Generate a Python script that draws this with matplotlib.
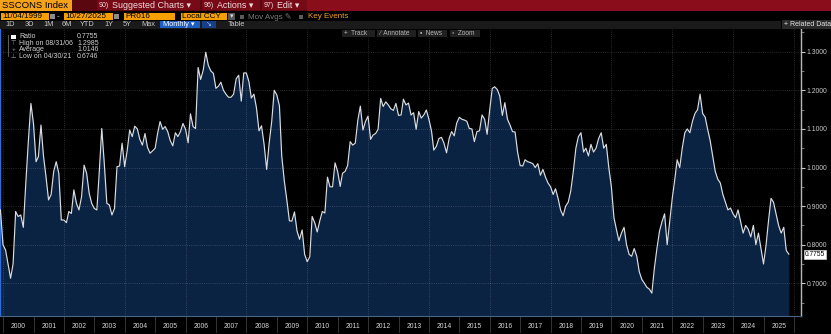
import matplotlib
matplotlib.use("Agg")
import matplotlib.pyplot as plt
import matplotlib.dates as mdates
from matplotlib.patches import Rectangle
from matplotlib.lines import Line2D
from matplotlib.ticker import FormatStrFormatter, MultipleLocator, FixedLocator
from matplotlib.transforms import blended_transform_factory
import numpy as np
import pandas as pd

# SSCONS Index ratio, month-end values (Nov 1999 - Oct 2025)
r1999 = [0.890, 0.800]
r2000 = [0.786, 0.750, 0.713, 0.750, 0.886, 0.873, 0.877, 0.845, 0.960, 1.070, 1.166, 1.114]
r2001 = [1.015, 1.028, 1.110, 1.030, 0.975, 0.916, 0.930, 0.990, 1.015, 0.985, 0.864, 0.864]
r2002 = [0.857, 0.886, 0.881, 0.942, 0.907, 0.890, 0.924, 1.006, 0.985, 0.933, 0.907, 0.894]
r2003 = [0.890, 0.985, 1.101, 1.011, 0.907, 0.903, 0.877, 0.894, 1.002, 1.004, 1.063, 1.002]
r2004 = [1.045, 1.097, 1.080, 1.107, 1.100, 1.073, 1.058, 1.088, 1.052, 1.037, 1.043, 1.050]
r2005 = [1.090, 1.119, 1.099, 1.106, 1.093, 1.070, 1.056, 1.090, 1.080, 1.093, 1.114, 1.099]
r2006 = [1.064, 1.139, 1.106, 1.101, 1.259, 1.228, 1.252, 1.2985, 1.265, 1.250, 1.244, 1.205]
r2007 = [1.211, 1.221, 1.200, 1.190, 1.182, 1.182, 1.190, 1.230, 1.239, 1.172, 1.245, 1.245]
r2008 = [1.222, 1.180, 1.190, 1.155, 1.095, 1.108, 1.060, 0.995, 1.063, 1.120, 1.200, 1.188]
r2009 = [1.160, 1.030, 0.965, 0.916, 0.862, 0.861, 0.885, 0.835, 0.814, 0.838, 0.775, 0.756]
r2010 = [0.769, 0.873, 0.857, 0.833, 0.862, 0.886, 0.882, 0.975, 0.950, 0.950, 1.012, 0.990]
r2011 = [0.951, 0.985, 0.990, 1.005, 1.067, 1.058, 1.063, 1.123, 1.159, 1.097, 1.119, 1.133]
r2012 = [1.073, 1.084, 1.088, 1.099, 1.179, 1.158, 1.170, 1.162, 1.152, 1.148, 1.166, 1.135]
r2013 = [1.136, 1.177, 1.162, 1.167, 1.136, 1.142, 1.099, 1.145, 1.128, 1.136, 1.149, 1.125]
r2014 = [1.095, 1.045, 1.055, 1.075, 1.078, 1.063, 1.038, 1.075, 1.093, 1.082, 1.115, 1.130]
r2015 = [1.125, 1.123, 1.120, 1.101, 1.100, 1.067, 1.093, 1.095, 1.136, 1.125, 1.086, 1.149]
r2016 = [1.205, 1.209, 1.202, 1.185, 1.135, 1.168, 1.125, 1.110, 1.093, 1.092, 1.040, 1.005]
r2017 = [1.004, 1.020, 1.015, 1.013, 1.010, 1.000, 1.010, 0.980, 0.995, 0.975, 0.960, 0.950]
r2018 = [0.930, 0.945, 0.920, 0.890, 0.875, 0.900, 0.910, 0.940, 0.990, 1.050, 1.080, 1.090]
r2019 = [1.040, 1.050, 1.030, 1.060, 1.040, 1.050, 1.075, 1.090, 1.050, 1.060, 1.000, 0.950]
r2020 = [0.870, 0.840, 0.810, 0.830, 0.845, 0.800, 0.775, 0.770, 0.790, 0.770, 0.730, 0.710]
r2021 = [0.700, 0.690, 0.685, 0.6746, 0.740, 0.790, 0.835, 0.860, 0.880, 0.800, 0.860, 0.920]
r2022 = [0.970, 1.020, 1.000, 1.050, 1.090, 1.100, 1.090, 1.120, 1.140, 1.150, 1.190, 1.140]
r2023 = [1.130, 1.100, 1.070, 1.030, 0.990, 0.970, 0.960, 0.930, 0.910, 0.890, 0.895, 0.880]
r2024 = [0.870, 0.890, 0.860, 0.830, 0.850, 0.840, 0.820, 0.850, 0.800, 0.830, 0.790, 0.750]
r2025 = [0.800, 0.860, 0.920, 0.910, 0.880, 0.850, 0.830, 0.845, 0.785, 0.7755]

ratio = np.concatenate([r1999, r2000, r2001, r2002, r2003, r2004, r2005, r2006,
                        r2007, r2008, r2009, r2010, r2011, r2012, r2013, r2014,
                        r2015, r2016, r2017, r2018, r2019, r2020, r2021, r2022,
                        r2023, r2024, r2025])
dates = pd.date_range("1999-11-30", periods=len(ratio), freq="ME")
years = list(range(2000, 2026))
avg_label = 1.0146

W, H = 831, 334
plt.rcParams["font.family"] = ["Liberation Sans", "DejaVu Sans"]
fig = plt.figure(figsize=(W / 100, H / 100), dpi=100, facecolor="black")


def fx(x):
    return x / W


def fy(y):
    return 1 - y / H


def box(x0, y0, x1, y1, color, ec="none", lw=0):
    fig.add_artist(Rectangle((fx(x0), fy(y1)), (x1 - x0) / W, (y1 - y0) / H,
                             transform=fig.transFigure, facecolor=color,
                             edgecolor=ec, linewidth=lw))


def label(x, y, s, size=5, color="#c8c8c8", ha="left", **kw):
    fig.text(fx(x), fy(y), s, fontsize=size, color=color, ha=ha, va="center", **kw)


# --- header bar ---
box(0, 0, 831, 10.5, "#8a0d1c")
box(72, 0, 307, 10.5, "#5a0710")
box(0, 0, 72, 10.5, "#f4a11c")
label(2, 5.6, "SSCONS Index", size=6.8, color="black")
for x0, x1, num, txt in [(97, 200, "90)", "Suggested Charts \u25be"),
                         (202, 260, "96)", "Actions \u25be"),
                         (262, 307, "97)", "Edit \u25be")]:
    box(x0, 0.5, x1, 10, "#760b17")
    label(x0 + 2, 5.6, num, size=5, color="#f2dcdc")
    label(x0 + 15, 5.6, txt, size=6.4, color="#f2dcdc")

# --- date / settings row ---
for x0, x1, txt in [(1, 49, "11/04/1999"), (64, 113, "10/27/2025"),
                    (124, 175, "PR016"), (181, 227, "Local CCY")]:
    box(x0, 12.8, x1, 20.3, "#f5a000")
    label(x0 + 1, 16.7, txt, size=5.9, color="black")
for x0 in (50, 114):
    box(x0, 13.8, x0 + 5, 19.3, "#8c8c8c")
label(56.5, 16.5, "-", size=6, color="#c8c8c8")
box(228, 12.8, 235, 20.3, "#555555")
label(231.5, 16.5, "\u25be", size=5, color="#dddddd", ha="center")
box(240, 14.5, 244, 18.5, "#5a5a5a")
label(248, 16.7, "Mov Avgs \u270e", size=5.8, color="#7a7a7a")
box(299, 14.5, 303, 18.5, "#5a5a5a")
label(308, 16.7, "Key Events", size=5.8, color="#f0a020")

# --- range buttons row ---
box(0, 20.8, 781, 28.6, "#1a1a1a")
for x, txt in [(5, "1D"), (25, "3D"), (43, "1M"), (62, "6M"), (80, "YTD"),
               (104, "1Y"), (123, "5Y"), (141, "Max"), (228, "Table")]:
    label(x, 24.8, txt, size=5.3, color="#c8c8c8")
box(160, 21.2, 200, 28.3, "#1d5cc0")
label(163, 24.8, "Monthly \u25be", size=5.3, color="white")
box(202, 21.2, 216, 28.3, "#173f86")
label(209, 24.8, "\u2198", size=5, color="#9fc0ff", ha="center")
box(782, 20.3, 831, 28.6, "#2a2a2a")
label(784, 24.6, "+ Related Data", size=5, color="#e6e6e6")

# --- chart ---
ax = fig.add_axes([0, fy(316), 801 / W, (316 - 29) / H])
ax.set_facecolor("black")
ymin, ymax = 0.6153, 1.3588
ax.set_ylim(ymin, ymax)
ax.set_xlim(mdates.date2num(pd.Timestamp("1999-11-25")),
            mdates.date2num(pd.Timestamp("2026-03-26")))

ax.fill_between(dates, ratio, ymin, color="#0b2343", lw=0, zorder=1)
grid_kw = dict(color="white", alpha=0.22, lw=0.6, ls=(0, (1, 1.6)), zorder=2)
for v in np.arange(0.7, 1.31, 0.1):
    ax.axhline(v, **grid_kw)
for yr in range(2000, 2027, 2):
    ax.axvline(pd.Timestamp(f"{yr}-01-01"), **grid_kw)
ax.plot(dates, ratio, color="#dadde2", lw=0.85, zorder=3)

ax.spines["top"].set_visible(False)
ax.spines["left"].set_color("#2a6fe0")
ax.spines["left"].set_linewidth(1.6)
ax.spines["right"].set_color("#b8b8b8")
ax.spines["right"].set_linewidth(1.0)
ax.spines["bottom"].set_color("#4b6384")
ax.spines["bottom"].set_linewidth(0.8)

ax.set_xticks([])
ax.yaxis.tick_right()
ax.yaxis.set_major_locator(FixedLocator(np.arange(0.7, 1.31, 0.1)))
ax.yaxis.set_minor_locator(MultipleLocator(0.05))
ax.yaxis.set_major_formatter(FormatStrFormatter("%.4f"))
ax.tick_params(axis="y", which="major", colors="#c8c8c8", labelsize=4.9,
               length=3, width=0.8, pad=1)
ax.tick_params(axis="y", which="minor", colors="#8a8a8a", length=2, width=0.6)

# year strip under the plot
trans = blended_transform_factory(ax.transData, ax.transAxes)
for yr in years:
    ax.text(pd.Timestamp(f"{yr}-07-02"), -0.036, str(yr), transform=trans,
            ha="center", va="center", fontsize=4.9, color="#d6d6d6", clip_on=False)
for yr in range(2000, 2027):
    d = mdates.date2num(pd.Timestamp(f"{yr}-01-01"))
    ax.add_line(Line2D([d, d], [0, -0.055], transform=trans, color="#3c3c3c",
                       lw=0.6, clip_on=False))

# last value tag
last = ratio[-1]
ax.text(1.005, last, f"{last:.4f}", transform=blended_transform_factory(ax.transAxes, ax.transData),
        ha="left", va="center", fontsize=4.8, color="black", clip_on=False,
        bbox=dict(boxstyle="square,pad=0.15", fc="white", ec="#d0d0d0", lw=0.5))

# chart tool buttons
for x0, x1, txt in [(342, 375, "+  Track"), (377, 416, "\u2215  Annotate"),
                    (418, 447, "\u25aa  News"), (450, 480, "\u25e6  Zoom")]:
    box(x0, 29.5, x1, 37, "#202020")
    label(x0 + 2, 33.4, txt, size=4.7, color="#b4b4b4")

# legend block
i_hi = int(np.argmax(ratio))
i_lo = int(np.argmin(ratio))
rows = [("Ratio", f"{last:.4f}"),
        (f"High on {dates[i_hi]:%m/%d/%y}", f"{ratio[i_hi]:.4f}"),
        ("Average", f"{avg_label:.4f}"),
        (f"Low on {dates[i_lo]:%m/%d/%y}", f"{ratio[i_lo]:.4f}")]
ys = [36.7, 43.2, 49.6, 56.0]
fig.add_artist(Line2D([fx(7.5), fx(7.5)], [fy(35), fy(56)], transform=fig.transFigure,
                      color="#6e6e6e", lw=0.6))
box(11, 34.6, 16, 39, "white")
for sym, y in zip(["\u22a4", "+", "\u22a5"], ys[1:]):
    label(13.5, y, sym, size=4.6, color="#9a9a9a", ha="center")
for (name, val), y in zip(rows, ys):
    label(19.3, y, name, size=5.0, color="#d0d0d0")
    label(77, y, val, size=5.0, color="#d0d0d0")

fig.savefig("out.png", dpi=100, facecolor="black")
